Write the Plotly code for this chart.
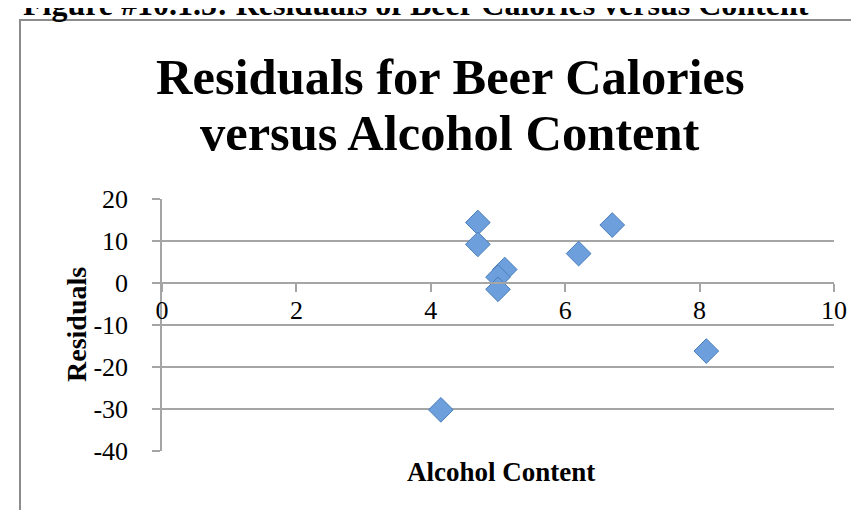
import plotly.graph_objects as go

# Data
alcohol = [4.7, 4.7, 5.1, 5.0, 5.0, 6.2, 6.7, 8.1, 4.15]
residuals = [14.4, 9.2, 3.2, 1.4, -1.5, 7.0, 13.8, -16.2, -30.2]

x_ticks = [0, 2, 4, 6, 8, 10]
x_tick_labels = ["0", "2", "4", "6", "8", "10"]
y_ticks = [-40, -30, -20, -10, 0, 10, 20]
y_tick_labels = ["-40", "-30", "-20", "-10", "0", "10", "20"]

W, H = 859, 510
L, R, T, B = 154, 33, 191, 67
PW, PH = W - L - R, H - T - B


def px(xp):
    return (xp - L) / PW


def py(yp):
    return (H - B - yp) / PH


GRAY = "#a5a5a5"
SERIF = "Liberation Serif"

fig = go.Figure()
fig.add_trace(go.Scatter(
    x=alcohol, y=residuals, mode="markers",
    marker=dict(symbol="diamond", size=19, color="#6C9FDC",
                line=dict(color="#4A7EBB", width=1)),
    showlegend=False, cliponaxis=False,
))

fig.update_layout(
    width=W, height=H,
    margin=dict(l=L, r=R, t=T, b=B, pad=0),
    paper_bgcolor="white", plot_bgcolor="white",
    font=dict(family=SERIF, color="black"),
    xaxis=dict(range=[0, 10], tickvals=x_ticks, ticktext=x_tick_labels,
               anchor="free", position=40 / 60, showgrid=False, zeroline=False,
               showline=True, linecolor=GRAY, linewidth=1.5,
               ticks="outside", ticklen=8, tickcolor=GRAY, tickwidth=1.5,
               tickfont=dict(family=SERIF, size=26, color="black"),
               ticklabelstandoff=-4),
    yaxis=dict(range=[-40, 20], tickvals=y_ticks, ticktext=y_tick_labels,
               showgrid=True, gridcolor=GRAY, gridwidth=1.5, zeroline=False,
               showline=True, linecolor=GRAY, linewidth=1.5,
               ticks="outside", ticklen=8, tickcolor=GRAY, tickwidth=1.5,
               tickfont=dict(family=SERIF, size=26, color="black"),
               ticklabelstandoff=19),
)

# outer frame of the chart (extends past the picture on right and bottom)
fig.add_shape(type="rect", xref="paper", yref="paper",
              x0=px(12), x1=px(900), y0=py(560), y1=py(12),
              line=dict(color="#8c8c8c", width=2), fillcolor="rgba(0,0,0,0)",
              layer="below")

ann = [
    dict(text="<b>Figure #10.1.5: Residuals of Beer Calories versus Content</b>",
         x=px(13), y=py(7 - 0.34 * 32), xanchor="left", yanchor="middle", size=32),
    dict(text="<b>Residuals for Beer Calories</b>",
         x=px(442), y=py(86 - 0.34 * 50.5), xanchor="center", yanchor="middle", size=50.5),
    dict(text="<b>versus Alcohol Content</b>",
         x=px(442), y=py(142 - 0.34 * 50.5), xanchor="center", yanchor="middle", size=50.5),
    dict(text="<b>Alcohol Content</b>",
         x=px(493), y=py(473 - 0.34 * 27), xanchor="center", yanchor="middle", size=27),
]
for a in ann:
    fig.add_annotation(text=a["text"], xref="paper", yref="paper", x=a["x"], y=a["y"],
                       xanchor=a["xanchor"], yanchor=a["yanchor"], showarrow=False,
                       font=dict(family=SERIF, size=a["size"], color="black"))

fig.add_annotation(text="<b>Residuals</b>", xref="paper", yref="paper",
                   x=px(68), y=py(317), textangle=-90, showarrow=False,
                   xanchor="center", yanchor="middle",
                   font=dict(family=SERIF, size=28, color="black"))

fig.write_html("out.html")
